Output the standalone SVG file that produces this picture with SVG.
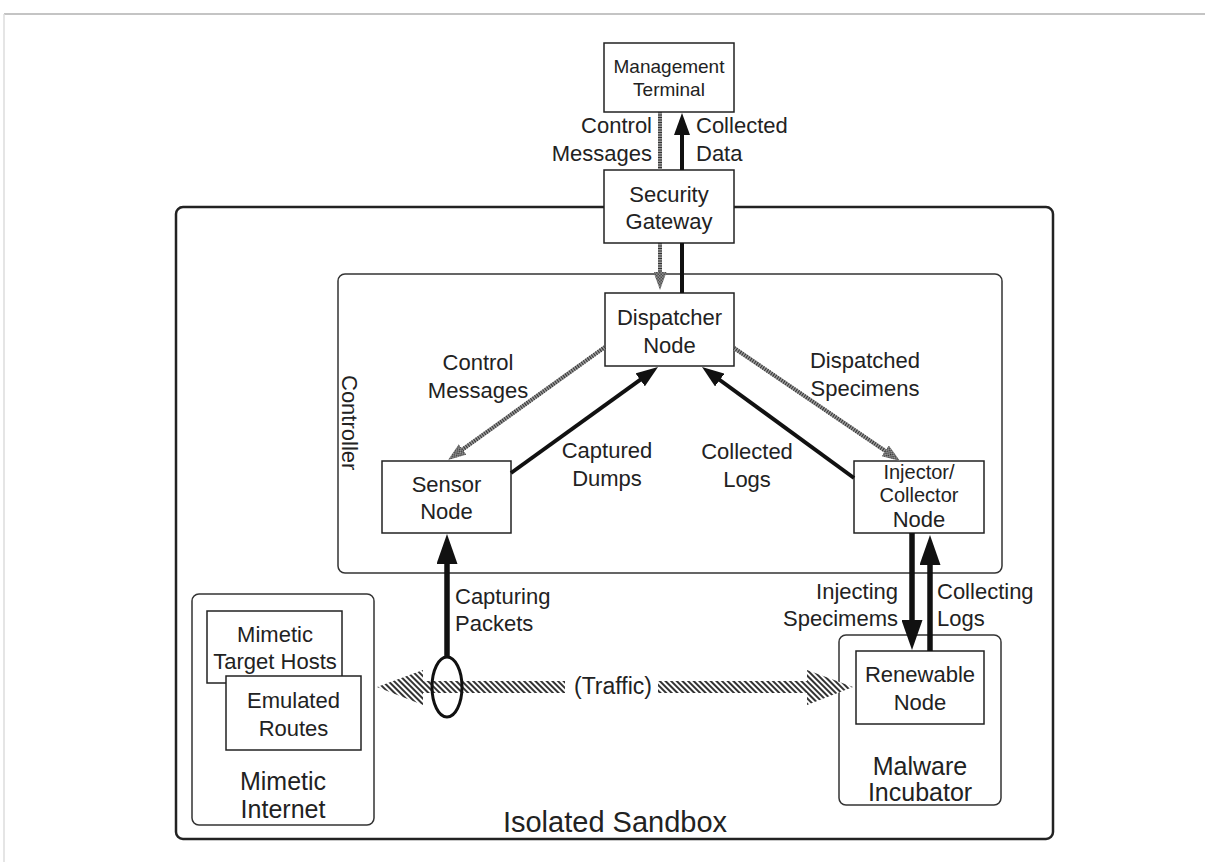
<svg xmlns="http://www.w3.org/2000/svg" width="1205" height="862" viewBox="0 0 1205 862">
<style>
text{font-family:"Liberation Sans",Arial,Helvetica,sans-serif;fill:#222;}
.n{font-size:22px;text-anchor:middle;}
.l{font-size:22px;}
.g{font-size:25px;text-anchor:middle;}
.box{fill:#fff;stroke:#222;stroke-width:1.5;}
.grp{fill:none;stroke:#333;stroke-width:1.5;}
.blk{stroke:#111;stroke-width:4;fill:none;}
.blkL{stroke:#111;stroke-width:5.5;fill:none;}
.gb{stroke:#999;stroke-width:4;fill:none;}
.gd{stroke:#333;stroke-width:4;fill:none;stroke-dasharray:1 1.5;}
</style>
<defs>
<pattern id="stripe" patternUnits="userSpaceOnUse" width="4" height="4" patternTransform="rotate(-45)">
<rect width="4" height="4" fill="#fff"/>
<rect width="2" height="4" fill="#333"/>
</pattern>
<pattern id="xh" patternUnits="userSpaceOnUse" width="3" height="3">
<rect width="3" height="3" fill="#aaa"/>
<rect width="1.5" height="1.5" fill="#333"/>
<rect x="1.5" y="1.5" width="1.5" height="1.5" fill="#333"/>
</pattern>
<marker id="ah" viewBox="0 0 22 16" refX="11" refY="8" markerWidth="22" markerHeight="16" markerUnits="userSpaceOnUse" orient="auto">
<path d="M0,0 L22,8 L0,16 z" fill="#111"/>
</marker>
<marker id="ahL" viewBox="0 0 30 21" refX="15" refY="10.5" markerWidth="30" markerHeight="21" markerUnits="userSpaceOnUse" orient="auto">
<path d="M0,0 L30,10.5 L0,21 z" fill="#111"/>
</marker>
<marker id="gh" viewBox="0 0 18 13" refX="9" refY="6.5" markerWidth="18" markerHeight="13" markerUnits="userSpaceOnUse" orient="auto">
<path d="M0,0 L18,6.5 L0,13 z" fill="url(#xh)"/>
</marker>
</defs>
<rect width="1205" height="862" fill="#fff"/>
<g id="frame">
<line x1="4" y1="14" x2="1205" y2="14" stroke="#c4c4c4" stroke-width="2"/>
<line x1="4" y1="14" x2="4" y2="862" stroke="#dcdcdc" stroke-width="1.5"/>
</g>
<g id="isolated-sandbox">
<rect x="176" y="207" width="877" height="632" rx="7" fill="none" stroke="#222" stroke-width="2.5"/>
<text x="615" y="832" style="font-size:29px;text-anchor:middle">Isolated Sandbox</text>
</g>
<g id="controller">
<rect x="338" y="274" width="664" height="299" rx="7" class="grp"/>
<text transform="translate(342,375) rotate(90)" class="l">Controller</text>
</g>
<g id="mimetic-internet">
<rect x="192" y="594" width="182" height="231" rx="7" class="grp"/>
<text x="283" y="790" class="g">Mimetic</text>
<text x="283" y="818" class="g">Internet</text>
</g>
<g id="mimetic-target-hosts">
<rect x="207" y="611" width="135" height="72" class="box"/>
<text x="275" y="642" class="n">Mimetic</text>
<text x="275" y="669" class="n">Target Hosts</text>
</g>
<g id="emulated-routes">
<rect x="226" y="676" width="135" height="74" class="box"/>
<text x="293.5" y="708" class="n">Emulated</text>
<text x="293.5" y="736" class="n">Routes</text>
</g>
<g id="malware-incubator">
<rect x="839" y="635" width="162" height="170" rx="7" class="grp"/>
<text x="920" y="775" class="g">Malware</text>
<text x="920" y="801" class="g">Incubator</text>
</g>
<g id="renewable-node">
<rect x="856" y="651" width="128" height="73" class="box"/>
<text x="920" y="682" class="n">Renewable</text>
<text x="920" y="710" class="n">Node</text>
</g>
<g id="management-terminal">
<rect x="604" y="43" width="130" height="69" class="box"/>
<text x="669" y="73" class="n" style="font-size:19px">Management</text>
<text x="669" y="96" class="n" style="font-size:19px">Terminal</text>
</g>
<g id="security-gateway">
<rect x="604" y="170" width="130" height="73" class="box"/>
<text x="669" y="202" class="n">Security</text>
<text x="669" y="229" class="n">Gateway</text>
</g>
<g id="dispatcher-node">
<rect x="605" y="293" width="129" height="73" class="box"/>
<text x="669.5" y="325" class="n">Dispatcher</text>
<text x="669.5" y="353" class="n">Node</text>
</g>
<g id="sensor-node">
<rect x="382" y="461" width="129" height="72" class="box"/>
<text x="446.5" y="492" class="n">Sensor</text>
<text x="446.5" y="519" class="n">Node</text>
</g>
<g id="injector-collector-node">
<rect x="854" y="461" width="130" height="72" class="box"/>
<text x="919" y="479" class="n" style="font-size:20px">Injector/</text>
<text x="919" y="502" class="n" style="font-size:20px">Collector</text>
<text x="919" y="527" class="n">Node</text>
</g>
<g id="connectors">
<path d="M377,687 L423,670 L423,681 L565,681 L565,693 L423,693 L423,705 Z" fill="url(#stripe)"/>
<path d="M658,681 L807,681 L807,670 L853,687 L807,705 L807,693 L658,693 Z" fill="url(#stripe)"/>
<ellipse cx="447" cy="687" rx="15" ry="30" fill="none" stroke="#111" stroke-width="3"/>
<line x1="660" y1="112" x2="660" y2="170" class="gb"/>
<line x1="660" y1="112" x2="660" y2="170" class="gd"/>
<line x1="660" y1="243" x2="660" y2="281" class="gb"/>
<line x1="660" y1="243" x2="660" y2="281" class="gd" marker-end="url(#gh)"/>
<line x1="682" y1="170" x2="682" y2="124" class="blk" marker-end="url(#ah)"/>
<line x1="682" y1="243" x2="682" y2="293" class="blk"/>
<line x1="605" y1="347" x2="455.3" y2="454.7" class="gb"/>
<line x1="605" y1="347" x2="455.3" y2="454.7" class="gd" marker-end="url(#gh)"/>
<line x1="511" y1="473" x2="649.1" y2="373.4" class="blk" marker-end="url(#ah)"/>
<line x1="734" y1="348" x2="892.6" y2="455.9" class="gb"/>
<line x1="734" y1="348" x2="892.6" y2="455.9" class="gd" marker-end="url(#gh)"/>
<line x1="854" y1="478" x2="710.9" y2="373.5" class="blk" marker-end="url(#ah)"/>
<line x1="912" y1="533" x2="912" y2="635" class="blkL" marker-end="url(#ahL)"/>
<line x1="930" y1="651" x2="930" y2="550" class="blkL" marker-end="url(#ahL)"/>
<line x1="447" y1="657" x2="447" y2="549" class="blkL" marker-end="url(#ahL)"/>
</g>
<g id="labels">
<text x="652" y="133" class="l" text-anchor="end">Control</text>
<text x="652" y="161" class="l" text-anchor="end">Messages</text>
<text x="696" y="133" class="l">Collected</text>
<text x="696" y="161" class="l">Data</text>
<text x="478" y="370" class="n">Control</text>
<text x="478" y="398" class="n">Messages</text>
<text x="607" y="458" class="n">Captured</text>
<text x="607" y="486" class="n">Dumps</text>
<text x="865" y="368" class="n">Dispatched</text>
<text x="865" y="396" class="n">Specimens</text>
<text x="747" y="459" class="n">Collected</text>
<text x="747" y="487" class="n">Logs</text>
<text x="898" y="599" class="l" text-anchor="end">Injecting</text>
<text x="898" y="626" class="l" text-anchor="end">Specimems</text>
<text x="937" y="599" class="l">Collecting</text>
<text x="937" y="626" class="l">Logs</text>
<text x="455" y="604" class="l">Capturing</text>
<text x="455" y="631" class="l">Packets</text>
<text x="613" y="694" class="n" style="font-size:23px">(Traffic)</text>
</g>
</svg>
